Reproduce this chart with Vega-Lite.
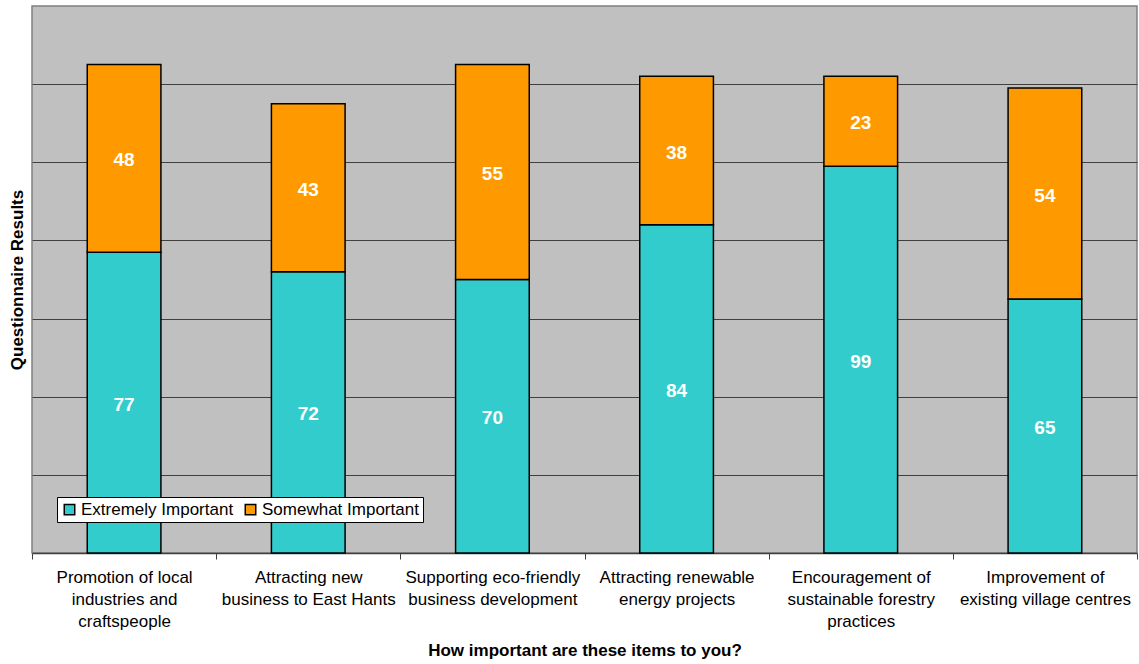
{
  "$schema": "https://vega.github.io/schema/vega-lite/v6.json",
  "autosize": "none",
  "width": 1105,
  "height": 547,
  "padding": {"left": 32, "top": 6, "right": 2, "bottom": 111},
  "background": "white",
  "config": {
    "font": "Liberation Sans",
    "view": {"fill": "#C0C0C0", "stroke": "#808080", "strokeWidth": 1.5}
  },
  "data": {
    "values": [
      {"item": "Promotion of local\nindustries and\ncraftspeople", "importance": "Extremely Important", "count": 77},
      {"item": "Promotion of local\nindustries and\ncraftspeople", "importance": "Somewhat Important", "count": 48},
      {"item": "Attracting new\nbusiness to East Hants", "importance": "Extremely Important", "count": 72},
      {"item": "Attracting new\nbusiness to East Hants", "importance": "Somewhat Important", "count": 43},
      {"item": "Supporting eco-friendly\nbusiness development", "importance": "Extremely Important", "count": 70},
      {"item": "Supporting eco-friendly\nbusiness development", "importance": "Somewhat Important", "count": 55},
      {"item": "Attracting renewable\nenergy projects", "importance": "Extremely Important", "count": 84},
      {"item": "Attracting renewable\nenergy projects", "importance": "Somewhat Important", "count": 38},
      {"item": "Encouragement of\nsustainable forestry\npractices", "importance": "Extremely Important", "count": 99},
      {"item": "Encouragement of\nsustainable forestry\npractices", "importance": "Somewhat Important", "count": 23},
      {"item": "Improvement of\nexisting village centres", "importance": "Extremely Important", "count": 65},
      {"item": "Improvement of\nexisting village centres", "importance": "Somewhat Important", "count": 54}
    ]
  },
  "transform": [
    {"stack": "count", "groupby": ["item"], "sort": [{"field": "importance", "order": "ascending"}], "as": ["y0", "y1"]},
    {"calculate": "(datum.y0 + datum.y1) / 2", "as": "ymid"}
  ],
  "encoding": {
    "x": {
      "field": "item",
      "type": "nominal",
      "sort": null,
      "scale": {"paddingInner": 0, "paddingOuter": 0},
      "axis": {
        "title": "How important are these items to you?",
        "titleFontSize": 17,
        "titleFontWeight": "bold",
        "titleColor": "black",
        "titlePadding": 13,
        "labelAngle": 0,
        "labelExpr": "split(datum.label, '\\n')",
        "labelFontSize": 17,
        "labelColor": "black",
        "labelLineHeight": 22,
        "labelLimit": 300,
        "labelPadding": 10,
        "labelBaseline": "top",
        "tickBand": "extent",
        "tickSize": 6,
        "tickColor": "#404040",
        "domainColor": "#404040",
        "domainWidth": 1.5
      }
    }
  },
  "layer": [
    {
      "mark": {"type": "bar", "stroke": "black", "strokeWidth": 1.5, "width": {"band": 0.4}},
      "encoding": {
        "y": {
          "field": "y0",
          "type": "quantitative",
          "scale": {"domain": [0, 140], "nice": false},
          "axis": {
            "title": "Questionnaire Results",
            "titleFontSize": 17,
            "titleFontWeight": "bold",
            "titleColor": "black",
            "titlePadding": 6,
            "values": [20, 40, 60, 80, 100, 120],
            "labels": false,
            "ticks": false,
            "domain": false,
            "grid": true,
            "gridColor": "#404040",
            "gridWidth": 1,
            "gridOpacity": 1
          }
        },
        "y2": {"field": "y1"},
        "color": {
          "field": "importance",
          "type": "nominal",
          "scale": {"domain": ["Extremely Important", "Somewhat Important"], "range": ["#33CCCC", "#FF9900"]},
          "legend": {
            "title": null,
            "orient": "none",
            "legendX": 25,
            "legendY": 491,
            "direction": "horizontal",
            "fillColor": "white",
            "strokeColor": "black",
            "padding": 4,
            "symbolType": "square",
            "symbolSize": 110,
            "symbolStrokeColor": "black",
            "symbolStrokeWidth": 1.5,
            "symbolOpacity": 1,
            "labelFontSize": 17,
            "labelColor": "black",
            "labelOffset": 3,
            "columnPadding": 8
          }
        }
      }
    },
    {
      "mark": {"type": "text", "color": "white", "fontWeight": "bold", "fontSize": 19, "baseline": "middle", "dy": 2},
      "encoding": {
        "y": {"field": "ymid", "type": "quantitative"},
        "text": {"field": "count", "type": "quantitative"}
      }
    }
  ]
}
